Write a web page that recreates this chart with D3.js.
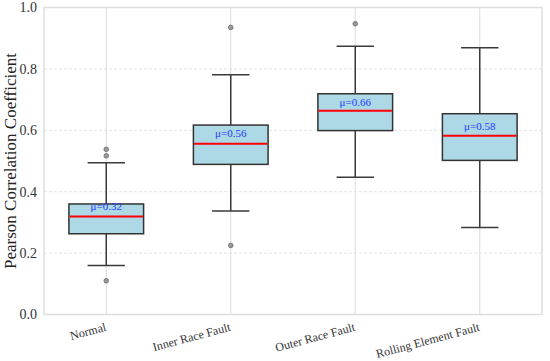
<!DOCTYPE html>
<html>
<head>
<meta charset="utf-8">
<script src="https://cdn.jsdelivr.net/npm/d3@7"></script>
<style>
  body { margin: 0; background: #fff; }
  text { font-family: "Liberation Serif", "Times New Roman", serif; }
</style>
</head>
<body>
<div id="chart"></div>
<script>
// chart size and margins
const width = 550;
const height = 361;
const margin = {left: 44, right: 8, top: 7.5, bottom: 46.5};

// data
const categories = ["Normal", "Inner Race Fault", "Outer Race Fault", "Rolling Element Fault"];
const q1 = [0.263, 0.489, 0.599, 0.502];
const medians = [0.319, 0.556, 0.664, 0.582];
const q3 = [0.360, 0.617, 0.719, 0.654];
const whiskLow = [0.160, 0.337, 0.447, 0.283];
const whiskHigh = [0.494, 0.781, 0.874, 0.869];
const means = [0.32, 0.56, 0.66, 0.58];
const outliers = [[0.538, 0.517, 0.110], [0.935, 0.225], [0.947], []];
const yTicks = [0.0, 0.2, 0.4, 0.6, 0.8, 1.0];

const boxes = categories.map((c, i) => ({
  name: c, q1: q1[i], med: medians[i], q3: q3[i],
  lo: whiskLow[i], hi: whiskHigh[i], mean: means[i], out: outliers[i]
}));

const svg = d3.select("#chart")
  .append("svg")
  .attr("width", width)
  .attr("height", height);

const x = d3.scalePoint()
  .domain(categories)
  .range([margin.left, width - margin.right])
  .padding(0.5);

const y = d3.scaleLinear()
  .domain([0, 1])
  .range([height - margin.bottom, margin.top]);

const band = x.step();
const boxW = band * 0.6;
const capW = boxW / 2;

// grid lines
svg.append("g")
  .selectAll("line")
  .data(yTicks.filter(t => t > 0 && t < 1))
  .enter().append("line")
    .attr("x1", margin.left).attr("x2", width - margin.right)
    .attr("y1", d => y(d)).attr("y2", d => y(d))
    .attr("stroke", "#dcdcdc")
    .attr("stroke-width", 0.8)
    .attr("stroke-dasharray", "3,2");

svg.append("g")
  .selectAll("line")
  .data(categories)
  .enter().append("line")
    .attr("x1", d => x(d)).attr("x2", d => x(d))
    .attr("y1", margin.top).attr("y2", height - margin.bottom)
    .attr("stroke", "#dcdcdc")
    .attr("stroke-width", 1);

// frame
svg.append("rect")
  .attr("x", margin.left).attr("y", margin.top)
  .attr("width", width - margin.left - margin.right)
  .attr("height", height - margin.top - margin.bottom)
  .attr("fill", "none")
  .attr("stroke", "#dedede")
  .attr("stroke-width", 1.5);

// y axis
const yAxis = svg.append("g")
  .attr("transform", `translate(${margin.left},0)`)
  .call(d3.axisLeft(y).tickValues(yTicks).tickFormat(d3.format(".1f")).tickSize(0).tickPadding(7));
yAxis.select(".domain").remove();
yAxis.selectAll("text")
  .attr("font-size", "14px")
  .attr("fill", "#333")
  .style("font-family", "Liberation Serif, serif");

// x axis
const xAxis = svg.append("g")
  .attr("transform", `translate(0,${height - margin.bottom})`)
  .call(d3.axisBottom(x).tickSize(0).tickPadding(0));
xAxis.select(".domain").remove();
xAxis.selectAll("text")
  .attr("font-size", "12px")
  .attr("fill", "#333")
  .attr("text-anchor", "end")
  .attr("dy", null)
  .attr("transform", "translate(0,16) rotate(-15)")
  .attr("y", 0)
  .style("font-family", "Liberation Serif, serif");

// y label
svg.append("text")
  .attr("transform", `translate(16,${(margin.top + height - margin.bottom) / 2}) rotate(-90)`)
  .attr("text-anchor", "middle")
  .attr("font-size", "17px")
  .attr("fill", "#222")
  .text("Pearson Correlation Coefficient");

// boxes
const g = svg.append("g")
  .selectAll("g")
  .data(boxes)
  .enter().append("g");

g.append("line")
  .attr("x1", d => x(d.name)).attr("x2", d => x(d.name))
  .attr("y1", d => y(d.lo)).attr("y2", d => y(d.q1))
  .attr("stroke", "#3a3a3a").attr("stroke-width", 1.5);

g.append("line")
  .attr("x1", d => x(d.name)).attr("x2", d => x(d.name))
  .attr("y1", d => y(d.q3)).attr("y2", d => y(d.hi))
  .attr("stroke", "#3a3a3a").attr("stroke-width", 1.5);

g.append("line")
  .attr("x1", d => x(d.name) - capW / 2).attr("x2", d => x(d.name) + capW / 2)
  .attr("y1", d => y(d.lo)).attr("y2", d => y(d.lo))
  .attr("stroke", "#3a3a3a").attr("stroke-width", 1.5);

g.append("line")
  .attr("x1", d => x(d.name) - capW / 2).attr("x2", d => x(d.name) + capW / 2)
  .attr("y1", d => y(d.hi)).attr("y2", d => y(d.hi))
  .attr("stroke", "#3a3a3a").attr("stroke-width", 1.5);

g.append("rect")
  .attr("x", d => x(d.name) - boxW / 2)
  .attr("y", d => y(d.q3))
  .attr("width", boxW)
  .attr("height", d => y(d.q1) - y(d.q3))
  .attr("fill", "#add8e6")
  .attr("stroke", "#333")
  .attr("stroke-width", 1.5);

g.append("line")
  .attr("x1", d => x(d.name) - boxW / 2 + 0.75).attr("x2", d => x(d.name) + boxW / 2 - 0.75)
  .attr("y1", d => y(d.med)).attr("y2", d => y(d.med))
  .attr("stroke", "#ff0000").attr("stroke-width", 2);

g.selectAll("circle")
  .data(d => d.out.map(v => ({name: d.name, v: v})))
  .enter().append("circle")
    .attr("cx", d => x(d.name))
    .attr("cy", d => y(d.v))
    .attr("r", 2.3)
    .attr("fill", "#9a9a9a")
    .attr("stroke", "#666")
    .attr("stroke-width", 0.8);

// mean labels
g.append("text")
  .attr("x", d => x(d.name))
  .attr("y", d => y(d.mean) - 6)
  .attr("text-anchor", "middle")
  .attr("font-size", "11px")
  .attr("fill", "#1f3bff")
  .text(d => "μ=" + d.mean.toFixed(2));
</script>
</body>
</html>
